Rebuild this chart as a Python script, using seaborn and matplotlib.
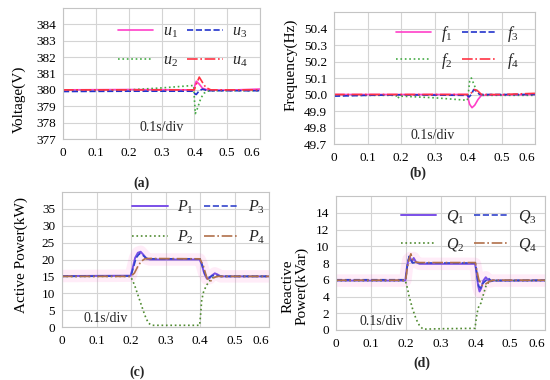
import numpy as np
import pandas as pd
import matplotlib
matplotlib.use("Agg")
import matplotlib.pyplot as plt
import seaborn as sns

# ---------------- data ----------------
xticks = [0, 0.1, 0.2, 0.3, 0.4, 0.5, 0.6]
xtick_labels = ["0", "0.1", "0.2", "0.3", "0.4", "0.5", "0.6"]

# (a) Voltage
t_u1 = [0, 0.2, 0.399, 0.402, 0.406, 0.415, 0.425, 0.44, 0.5, 0.6]
u1 = [380.0, 380.02, 380.0, 380.3, 380.53, 380.35, 380.1, 380.0, 379.98, 380.05]
t_u2 = [0, 0.2, 0.3, 0.398, 0.4, 0.403, 0.41, 0.42, 0.43, 0.44, 0.46, 0.6]
u2 = [379.95, 380.0, 380.12, 380.27, 379.5, 378.55, 378.9, 379.5, 379.8, 379.92, 379.95, 379.95]
t_u3 = [0, 0.2, 0.398, 0.402, 0.406, 0.415, 0.425, 0.44, 0.6]
u3 = [379.9, 379.92, 379.92, 379.75, 379.72, 379.95, 380.05, 379.95, 379.95]
t_u4 = [0, 0.2, 0.4, 0.405, 0.415, 0.425, 0.435, 0.45, 0.6]
u4 = [380.0, 380.0, 380.0, 380.3, 380.78, 380.45, 380.15, 380.0, 380.0]

# (b) Frequency
t_f1 = [0, 0.2, 0.399, 0.401, 0.405, 0.412, 0.42, 0.43, 0.44, 0.6]
f1 = [50.0, 50.0, 50.0, 49.97, 49.94, 49.92, 49.935, 49.97, 49.995, 50.0]
t_f2 = [0, 0.185, 0.19, 0.195, 0.2, 0.3, 0.398, 0.4, 0.405, 0.41, 0.42, 0.43, 0.44, 0.6]
f2 = [49.995, 49.995, 49.975, 49.99, 49.99, 49.98, 49.965, 49.99, 50.08, 50.1, 50.05, 50.01, 49.995, 49.995]
t_f3 = [0, 0.1, 0.2, 0.398, 0.403, 0.41, 0.417, 0.425, 0.435, 0.6]
f3 = [49.99, 49.995, 49.998, 49.995, 49.985, 50.0, 50.03, 50.02, 50.0, 50.0]
t_f4 = [0, 0.2, 0.4, 0.41, 0.42, 0.43, 0.44, 0.5, 0.6]
f4 = [50.0, 50.0, 50.0, 50.01, 50.03, 50.02, 50.0, 50.0, 50.007]

# (c) Active power
t_p1 = [0, 0.199, 0.205, 0.212, 0.22, 0.228, 0.235, 0.245, 0.255, 0.3, 0.399, 0.405, 0.412,
        0.42, 0.428, 0.435, 0.443, 0.45, 0.46, 0.6]
p1 = [15.1, 15.2, 17.5, 20.5, 22.0, 22.3, 21.5, 20.3, 20.0, 20.0, 20.0, 18.5, 16.0,
      14.3, 14.5, 15.3, 15.9, 15.6, 15.0, 15.0]
t_p2 = [0, 0.199, 0.21, 0.22, 0.23, 0.24, 0.25, 0.26, 0.3, 0.399, 0.402, 0.405, 0.41,
        0.415, 0.42, 0.43, 0.44, 0.45, 0.6]
p2 = [15.0, 15.0, 12.5, 9.5, 6.5, 3.5, 1.2, 0.5, 0.5, 0.5, 4.0, 8.0, 10.3,
      11.5, 12.5, 14.0, 14.8, 15.0, 15.0]
t_p3 = [0, 0.2, 0.205, 0.215, 0.225, 0.235, 0.245, 0.26, 0.4, 0.405, 0.415, 0.425, 0.435,
        0.445, 0.46, 0.6]
p3 = [15.0, 15.1, 17.0, 20.5, 21.8, 21.2, 20.3, 20.2, 20.2, 18.8, 15.5, 14.6, 15.2,
      15.4, 15.0, 15.0]
t_p4 = [0, 0.2, 0.21, 0.22, 0.23, 0.24, 0.25, 0.4, 0.41, 0.42, 0.43, 0.44, 0.45, 0.6]
p4 = [15.0, 15.0, 16.0, 18.0, 19.5, 20.2, 20.3, 20.2, 18.0, 14.5, 13.5, 14.6, 15.0, 15.0]

# (d) Reactive power
t_q1 = [0, 0.199, 0.203, 0.208, 0.213, 0.218, 0.223, 0.23, 0.24, 0.3, 0.399, 0.403, 0.408,
        0.412, 0.417, 0.423, 0.43, 0.436, 0.443, 0.45, 0.6]
q1 = [5.9, 5.9, 7.3, 8.4, 8.6, 8.1, 8.6, 8.1, 7.9, 7.9, 7.9, 7.0, 5.3,
      4.6, 5.0, 5.9, 6.3, 6.0, 5.8, 5.9, 5.9]
t_q2 = [0, 0.199, 0.205, 0.21, 0.22, 0.23, 0.24, 0.25, 0.3, 0.399, 0.403, 0.408, 0.412,
        0.416, 0.42, 0.425, 0.43, 0.44, 0.45, 0.6]
q2 = [5.9, 5.9, 5.0, 4.0, 2.5, 1.3, 0.5, 0.1, 0.15, 0.2, 1.5, 2.6, 3.0,
      3.2, 3.8, 4.5, 5.2, 5.8, 5.9, 5.9]
t_q3 = [0, 0.2, 0.205, 0.21, 0.215, 0.22, 0.23, 0.24, 0.4, 0.405, 0.41, 0.415, 0.42,
        0.43, 0.437, 0.445, 0.6]
q3 = [6.0, 6.0, 7.8, 8.8, 8.4, 8.0, 8.1, 8.0, 8.0, 6.5, 5.2, 5.0, 5.5,
      5.9, 6.2, 5.9, 5.95]
t_q4 = [0, 0.2, 0.205, 0.21, 0.215, 0.22, 0.23, 0.24, 0.4, 0.405, 0.41, 0.42, 0.43,
        0.44, 0.45, 0.6]
q4 = [5.95, 5.95, 7.5, 8.5, 9.1, 8.3, 8.1, 8.05, 8.05, 7.0, 6.0, 5.3, 5.5,
      5.8, 5.95, 5.95]

# ---------------- style ----------------
sns.set_theme(style="whitegrid")
plt.rcParams['font.family'] = ['Liberation Serif', 'DejaVu Serif']
plt.rcParams['mathtext.fontset'] = 'custom'
plt.rcParams['mathtext.rm'] = 'Liberation Serif'
plt.rcParams['mathtext.it'] = 'Liberation Serif:italic'

GRID = "#d4d4d4"
SPINE = "#c4c4c4"

fig = plt.figure(figsize=(5.5, 3.8), dpi=100)

panels = [
    dict(rect=[63, 8, 260, 139], ylim=(377, 385), yticks=[377, 378, 379, 380, 381, 382, 383, 384],
         ytl=None, ylabel="Voltage(V)", ylc=(-0.223, 0.30), div=(0.30, 377.72),
         series=[(t_u1, u1, r"$\mathit{u}_{\mathit{1}}$", "#ff3fc8", "-", 1.2),
                 (t_u2, u2, r"$\mathit{u}_{\mathit{2}}$", "#44aa44", ":", 1.2),
                 (t_u3, u3, r"$\mathit{u}_{\mathit{3}}$", "#2233cc", "--", 1.2),
                 (t_u4, u4, r"$\mathit{u}_{\mathit{4}}$", "#ff3344", "-.", 1.2)],
         leg=(0.28, 0.88), ls=0.8, tag="(a)", tagpos=(142, 183), glow=False),
    dict(rect=[334, 12, 535, 144], ylim=(49.7, 50.5),
         yticks=[49.7, 49.8, 49.9, 50.0, 50.1, 50.2, 50.3, 50.4],
         ytl=["49.7", "49.8", "49.9", "50.0", "50.1", "50.2", "50.3", "50.4"],
         ylabel="Frequency(Hz)", ylc=(-0.214, 0.60), div=(0.295, 49.75),
         series=[(t_f1, f1, r"$\mathit{f}_{\mathit{1}}$", "#ff3fc8", "-", 1.2),
                 (t_f2, f2, r"$\mathit{f}_{\mathit{2}}$", "#44aa44", ":", 1.2),
                 (t_f3, f3, r"$\mathit{f}_{\mathit{3}}$", "#2233cc", "--", 1.2),
                 (t_f4, f4, r"$\mathit{f}_{\mathit{4}}$", "#ff3344", "-.", 1.2)],
         leg=(0.31, 0.91), ls=0.45, tag="(b)", tagpos=(418, 173), glow=False),
    dict(rect=[62, 192, 269, 327], ylim=(0, 40), yticks=[0, 5, 10, 15, 20, 25, 30, 35],
         ytl=None, ylabel="Active Power(kW)", ylc=(-0.198, 0.53), div=(0.128, 2.5),
         series=[(t_p1, p1, r"$\mathit{P}_{\mathit{1}}$", "#7a4fe8", "-", 1.4),
                 (t_p2, p2, r"$\mathit{P}_{\mathit{2}}$", "#4f8a30", ":", 1.2),
                 (t_p3, p3, r"$\mathit{P}_{\mathit{3}}$", "#3344cc", "--", 1.2),
                 (t_p4, p4, r"$\mathit{P}_{\mathit{4}}$", "#b0704a", "-.", 1.2)],
         leg=(0.34, 0.95), ls=0.8, tag="(c)", tagpos=(137, 372), glow=True),
    dict(rect=[336, 196, 545, 330], ylim=(0, 16), yticks=[0, 2, 4, 6, 8, 10, 12, 14],
         ytl=None, ylabel="Reactive\nPower(kVar)", ylc=(-0.196, 0.33), div=(0.132, 1.07),
         series=[(t_q1, q1, r"$\mathit{Q}_{\mathit{1}}$", "#7a4fe8", "-", 1.4),
                 (t_q2, q2, r"$\mathit{Q}_{\mathit{2}}$", "#4f8a30", ":", 1.2),
                 (t_q3, q3, r"$\mathit{Q}_{\mathit{3}}$", "#3344cc", "--", 1.2),
                 (t_q4, q4, r"$\mathit{Q}_{\mathit{4}}$", "#b0704a", "-.", 1.2)],
         leg=(0.31, 0.91), ls=0.7, tag="(d)", tagpos=(422, 363), glow=True),
]

W, H = 550.0, 380.0
for p in panels:
    x0, y0, x1, y1 = p["rect"]
    ax = fig.add_axes([x0 / W, 1 - y1 / H, (x1 - x0) / W, (y1 - y0) / H])
    ax.set_facecolor("white")
    if p["glow"]:
        t, v = p["series"][0][0], p["series"][0][1]
        sns.lineplot(x=t, y=v, ax=ax, color="#ff66cc", alpha=0.12, linewidth=9,
                     estimator=None, sort=False)
    for t, v, lab, col, ls, lw in p["series"]:
        sns.lineplot(x=t, y=v, ax=ax, color=col, linestyle=ls, linewidth=lw,
                     label=lab, estimator=None, sort=False)
    ax.set_xlim(0, 0.6)
    ax.set_ylim(*p["ylim"])
    ax.set_xticks(xticks)
    ax.set_xticklabels(xtick_labels)
    ax.set_yticks(p["yticks"])
    if p["ytl"] is not None:
        ax.set_yticklabels(p["ytl"])
    ax.grid(True, color=GRID, linewidth=0.8)
    for s in ax.spines.values():
        s.set_color(SPINE)
        s.set_linewidth(0.8)
    ax.tick_params(axis="both", length=0, labelsize=9.5, colors="black")
    ax.tick_params(axis="x", pad=6)
    ax.tick_params(axis="y", pad=5)
    ax.set_xlabel("")
    ax.set_ylabel(p["ylabel"], fontsize=11, va="center", ha="center", color="black",
                  linespacing=1.0)
    ax.yaxis.set_label_coords(*p["ylc"])
    ax.text(p["div"][0], p["div"][1], "0.1s/div", ha="center", va="center", fontsize=10)
    ax.legend(loc="upper left", bbox_to_anchor=p["leg"], ncol=2, frameon=False,
              fontsize=11.5, handlelength=2.2, handletextpad=0.6, columnspacing=0.6,
              labelspacing=p["ls"], borderpad=0, borderaxespad=0)
    fig.text(p["tagpos"][0] / W, 1 - p["tagpos"][1] / H, p["tag"], ha="center",
             va="center", fontsize=10, fontweight="bold")
    fig.canvas.draw()
    last = ax.xaxis.get_major_ticks()[-1].label1
    last.set_horizontalalignment("right")

fig.savefig("out.png", dpi=100)
